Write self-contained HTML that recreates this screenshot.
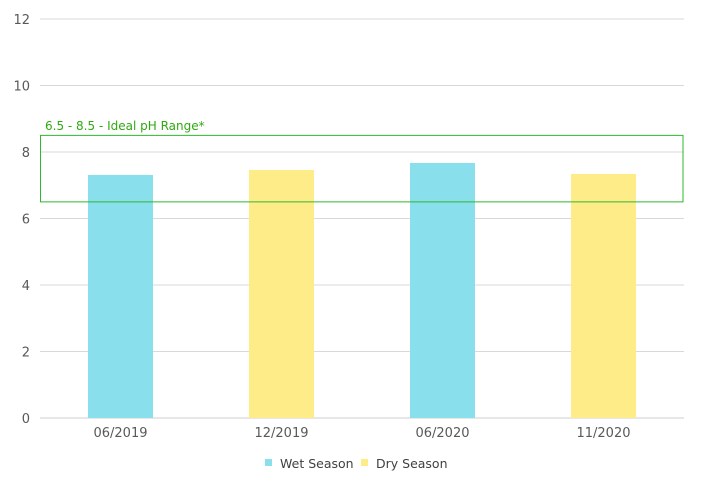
<!DOCTYPE html>
<html><head><meta charset="utf-8"><style>
body{margin:0;background:#fff;}
svg text{font-family:"DejaVu Sans","Liberation Sans",sans-serif;}
</style></head><body>
<svg id="chart" width="702" height="498" xmlns="http://www.w3.org/2000/svg"></svg>
<script>
const categories = ["06/2019","12/2019","06/2020","11/2020"];
const seasons = ["wet","dry","wet","dry"];
const phValues = [7.31, 7.46, 7.67, 7.34];
const yTicks = [0,2,4,6,8,10,12];
const rangeLow = 6.5, rangeHigh = 8.5;
const rangeLabel = "6.5 - 8.5 - Ideal pH Range*";
const seriesNames = ["Wet Season","Dry Season"];

const NS="http://www.w3.org/2000/svg";
const svg=document.getElementById('chart');
const L=40,R=684,Y0=418,Y12=19;
const y=v=>Y0-(v/12)*(Y0-Y12);
const band=(R-L)/categories.length;
const x=i=>L+band*i+band/2;
const colors={wet:"#89dfeb",dry:"#fdec88"};
function mk(t,a){const e=document.createElementNS(NS,t);for(const k in a)e.setAttribute(k,a[k]);svg.appendChild(e);return e;}

yTicks.forEach(t=>{
  const g=mk('line',{x1:L,x2:R,y1:y(t),y2:y(t),stroke:t===0?'#cfcfcf':'#d9d9d9','stroke-width':1});
  
  
  const tx=mk('text',{x:30,y:y(t)+5,'text-anchor':'end','font-size':13,fill:'#595959'});
  tx.textContent=t;
  
  
});

phValues.forEach((v,i)=>{
  const w=65;
  const b=mk('rect',{x:x(i)-w/2,y:y(v),width:w,height:Y0-y(v),fill:colors[seasons[i]]});
  
  
  const tx=mk('text',{x:x(i),y:437,'text-anchor':'middle','font-size':13,fill:'#595959'});
  tx.textContent=categories[i];
  
  
});

const box=mk('rect',{x:L+0.5,y:y(rangeHigh),width:R-L-1.5,height:y(rangeLow)-y(rangeHigh),fill:'none',stroke:'#2eb82e','stroke-width':1});


const rl=mk('text',{x:45,y:130,'font-size':12,fill:'#2eaa10'});
rl.textContent=rangeLabel;



const lg=[[265,colors.wet,seriesNames[0]],[361,colors.dry,seriesNames[1]]];
lg.forEach(([lx,c,n])=>{
  const s=mk('rect',{x:lx,y:459,width:7,height:7,fill:c});
  
  
  const t=mk('text',{x:lx+15,y:468,'font-size':12.5,fill:'#404040'});
  t.textContent=n;
  
  
});
</script>
</body></html>
